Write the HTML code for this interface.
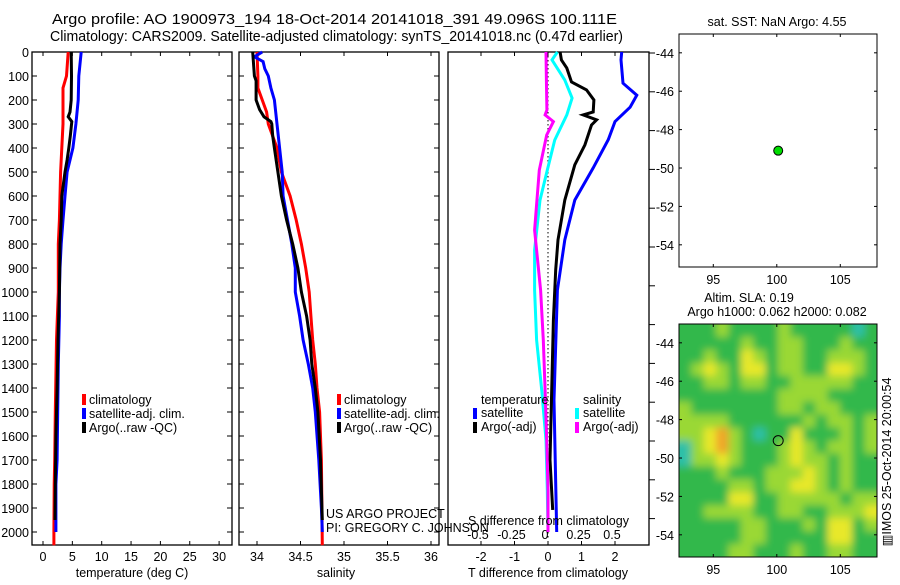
<!DOCTYPE html>
<html><head><meta charset="utf-8"><style>
body{margin:0;background:#fff}
svg text{font-family:"Liberation Sans",sans-serif;fill:#000}
</style></head><body>
<svg id="s" width="900" height="580" viewBox="0 0 900 580" xmlns="http://www.w3.org/2000/svg">
<defs><filter id="bl" x="-5%" y="-5%" width="110%" height="110%"><feGaussianBlur stdDeviation="4"/></filter></defs>
<text x="52" y="24" font-size="15" textLength="565" lengthAdjust="spacingAndGlyphs">Argo profile: AO 1900973_194 18-Oct-2014 20141018_391 49.096S 100.111E</text>
<text x="50" y="41" font-size="15" textLength="573" lengthAdjust="spacingAndGlyphs">Climatology: CARS2009. Satellite-adjusted climatology: synTS_20141018.nc (0.47d earlier)</text>
<g id="g"></g>
</svg>
<script>
const depT=[0,100,150,200,300,400,500,600,700,800,1000,1200,1500,1700,1800,2000,2055];
const tempClim=[4.3,4.0,3.4,3.4,3.4,3.2,3.0,2.9,2.8,2.6,2.6,2.3,2.1,2.0,1.9,1.85,1.85];
const depTS=[0,100,200,300,400,500,600,700,800,900,1000,1100,1300,1500,1700,1800,2000];
const tempSat=[6.5,6.1,6.0,5.6,5.1,4.1,3.75,3.4,3.1,2.9,2.8,2.8,2.6,2.5,2.4,2.2,2.2];
const depTA=[0,100,200,250,270,290,350,400,450,500,600,700,800,1000,1200,1400,1600,1800,1950];
const tempArgo=[4.8,4.85,4.8,4.6,4.3,4.9,4.65,4.4,4.1,3.75,3.2,3.1,2.9,2.8,2.55,2.4,2.2,2.1,2.05];
const depSC=[0,100,150,250,300,400,500,600,700,800,900,1000,1100,1200,1300,1400,1500,1700,2055];
const salClim=[34.0,34.01,34.01,34.11,34.13,34.23,34.28,34.38,34.45,34.51,34.56,34.6,34.62,34.64,34.67,34.69,34.72,34.74,34.75];
const depSS=[0,20,40,70,100,150,200,300,400,500,600,700,800,900,1000,1100,1200,1300,1400,1500,1700,1900,2000];
const salSat=[34.06,33.97,34.07,34.09,34.13,34.16,34.2,34.23,34.26,34.29,34.3,34.35,34.4,34.44,34.44,34.49,34.53,34.59,34.64,34.67,34.71,34.74,34.75];
const depSA=[0,100,120,200,240,270,290,300,350,400,500,600,700,800,900,1000,1100,1200,1300,1400,1500,1700,1950];
const salArgo=[33.95,33.97,33.99,33.99,34.03,34.08,34.16,34.17,34.18,34.2,34.24,34.28,34.34,34.41,34.47,34.51,34.57,34.61,34.63,34.67,34.7,34.73,34.75];
const depDT=[0,33,130,180,230,290,365,483,617,783,992,1450,2000];
const dTsat=[2.2,2.18,2.24,2.65,2.45,2.0,1.8,1.35,0.8,0.5,0.28,0.18,0.26];
const depDA=[0,33,67,125,158,200,250,262,283,304,387,470,617,783,908,1117,1700,1908];
const dTargo=[0.36,0.4,0.56,0.7,1.15,1.37,1.35,1.05,1.45,1.3,1.1,0.8,0.5,0.3,0.23,0.16,0.06,0.14];
const depDS=[0,33,117,192,262,367,492,617,825,992,1200,1408,1617,1825,2000];
const dSsat=[0.07,0.03,0.125,0.18,0.14,0.05,-0.005,-0.06,-0.1,-0.1,-0.085,-0.047,-0.015,-0.005,0];
const depDSA=[0,117,242,262,290,346,492,742,992,1200,1408,1617,1825,2000];
const dSargo=[-0.015,-0.012,-0.008,-0.022,0.04,-0.01,-0.065,-0.1,-0.055,-0.035,-0.022,-0.01,0,0];
const lonTicks=[95,100,105];
const latTicks=[-44,-46,-48,-50,-52,-54];
const floatLon=100.111, floatLat=-49.096;
const slaGrid=[
"1112111121111101","1111121122111211","1121132122112221","1232133122113321",
"1122122112222211","1111111122221111","2111111122122111","2222111111212212",
"2234210113111212","0234211123212212","0223211123221211","1112111222321211",
"1111221223321211","1111331122222122","1122221122112223","1111122111213312",
"1111122111113311","1111221112112211"];
const slaColors=["#2fc0a8","#33b84c","#9ad834","#e8e82a","#f0a42a"];

const NS="http://www.w3.org/2000/svg",G=document.getElementById('g');
function el(t,a,p){const e=document.createElementNS(NS,t);for(const k in a)e.setAttribute(k,a[k]);(p||G).appendChild(e);return e;}
const Y=d=>52+d*0.24;
function yLat(top,lat){return top+(lat+43.02)*-19.2;}
const fs=12.5;

function panel(x0,x1,name){
 const r=el('rect',{x:x0,y:52,width:x1-x0,height:493,fill:'none',stroke:'#000','stroke-width':1.3});
 
}
function line(dep,vals,fx,col,name){
 const p=el('path',{d:dep.map((d,i)=>(i?'L':'M')+fx(vals[i]).toFixed(1)+','+Y(d).toFixed(1)).join(''),fill:'none',stroke:col,'stroke-width':3});
 
}
function txt(x,y,s,opt,name){const t=el('text',Object.assign({x:x,y:y,'font-size':fs},opt||{}));t.textContent=s;
 return t;}

// panel 1 temperature
const xT=v=>43+v*5.87;
panel(32,232,'temperature-panel');
for(let d=0;d<=2000;d+=100){el('line',{x1:32,x2:37,y1:Y(d),y2:Y(d),stroke:'#000'});el('line',{x1:227,x2:232,y1:Y(d),y2:Y(d),stroke:'#000'});
 el('line',{x1:239,x2:244,y1:Y(d),y2:Y(d),stroke:'#000'});el('line',{x1:434,x2:439,y1:Y(d),y2:Y(d),stroke:'#000'});
 txt(29,Y(d)+5,String(d),{'text-anchor':'end'},'depth-tick-label');}
for(let v=0;v<=30;v+=5){el('line',{x1:xT(v),x2:xT(v),y1:52,y2:56,stroke:'#000'});el('line',{x1:xT(v),x2:xT(v),y1:541,y2:545,stroke:'#000'});
 txt(xT(v),561,String(v),{'text-anchor':'middle'},'temperature-tick-label');}
txt(132,577,'temperature (deg C)',{'text-anchor':'middle'},'temperature-axis-title');
line(depT,tempClim,xT,'#f00','temp-climatology-line');
line(depTS,tempSat,xT,'#00f','temp-satellite-line');
line(depTA,tempArgo,xT,'#000','temp-argo-line');
function legend(x,names,cols,nm){names.forEach((n,i)=>{el('rect',{x:x,y:394+i*14,width:4,height:11,fill:cols[i]});txt(x+7,404+i*14,n,{},nm);});}
legend(82,['climatology','satellite-adj. clim.','Argo(..raw -QC)'],['#f00','#00f','#000'],'temperature-legend-entry');

// panel 2 salinity
const xS=v=>257+(v-34)*87;
panel(239,439,'salinity-panel');
[34,34.5,35,35.5,36].forEach(v=>{el('line',{x1:xS(v),x2:xS(v),y1:52,y2:56,stroke:'#000'});el('line',{x1:xS(v),x2:xS(v),y1:541,y2:545,stroke:'#000'});
 txt(xS(v),561,String(v),{'text-anchor':'middle'},'salinity-tick-label');});
txt(336,577,'salinity',{'text-anchor':'middle'},'salinity-axis-title');
line(depSC,salClim,xS,'#f00','sal-climatology-line');
line(depSS,salSat,xS,'#00f','sal-satellite-line');
line(depSA,salArgo,xS,'#000','sal-argo-line');
legend(337,['climatology','satellite-adj. clim.','Argo(..raw -QC)'],['#f00','#00f','#000'],'salinity-legend-entry');
txt(326,518,'US ARGO PROJECT',{},'project-credit');
txt(326,532,'PI: GREGORY C. JOHNSON',{},'pi-credit');

// panel 3 differences
const xD=v=>548+v*33.5;
panel(448,649,'difference-panel');
for(let k=0;k<13;k++){const y=53+k*38.8;if(y<545)el('line',{x1:649,x2:655,y1:y,y2:y,stroke:'#000'});}
[-2,-1,0,1,2].forEach(v=>{el('line',{x1:xD(v),x2:xD(v),y1:52,y2:56,stroke:'#000'});el('line',{x1:xD(v),x2:xD(v),y1:541,y2:545,stroke:'#000'});
 txt(xD(v),561,String(v),{'text-anchor':'middle'},'t-diff-tick-label');});
[-0.5,-0.25,0,0.25,0.5].forEach(v=>txt(xD(v*4)-3,539,String(v),{'text-anchor':'middle'},'s-diff-tick-label'));
el('line',{x1:548,x2:548,y1:52,y2:540,stroke:'#000','stroke-dasharray':'1.5,2.5'});
line(depDT,dTsat,xD,'#00f','t-diff-satellite-line');
line(depDA,dTargo,xD,'#000','t-diff-argo-line');
line(depDS,dSsat,v=>xD(v*4),'#0ff','s-diff-satellite-line');
line(depDSA,dSargo,v=>xD(v*4),'#f0f','s-diff-argo-line');
txt(481,404,'temperature',{},'legend-temperature-heading');
txt(583,404,'salinity',{},'legend-salinity-heading');
el('rect',{x:473,y:408,width:4,height:11,fill:'#00f'});txt(481,417,'satellite',{},'legend-t-satellite');
el('rect',{x:473,y:422,width:4,height:11,fill:'#000'});txt(481,431,'Argo(-adj)',{},'legend-t-argo');
el('rect',{x:575,y:408,width:4,height:11,fill:'#0ff'});txt(583,417,'satellite',{},'legend-s-satellite');
el('rect',{x:575,y:422,width:4,height:11,fill:'#f0f'});txt(583,431,'Argo(-adj)',{},'legend-s-argo');
txt(468,525,'S difference from climatology',{},'s-diff-axis-title');
txt(548,577,'T difference from climatology',{'text-anchor':'middle'},'t-diff-axis-title');

// maps
const xL=v=>679+(v-92.3)*12.7;
function mapAxes(top,bot,name){
 const r=el('rect',{x:679,y:top,width:198,height:bot-top,fill:'none',stroke:'#000','stroke-width':1});
 
 lonTicks.forEach(v=>{el('line',{x1:xL(v),x2:xL(v),y1:top,y2:top+3,stroke:'#000'});el('line',{x1:xL(v),x2:xL(v),y1:bot-3,y2:bot,stroke:'#000'});
  txt(xL(v),bot+17,String(v),{'text-anchor':'middle'},'longitude-tick-label');});
 latTicks.forEach(v=>{const y=yLat(top,v);el('line',{x1:679,x2:682,y1:y,y2:y,stroke:'#000'});el('line',{x1:874,x2:877,y1:y,y2:y,stroke:'#000'});
  txt(674,y+5,String(v),{'text-anchor':'end'},'latitude-tick-label');});
}
// heatmap
const hx=679,hy=324,hw=198,hh=233,rows=slaGrid.length,cols=16;
const clip=el('clipPath',{id:'mc'});el('rect',{x:hx,y:hy,width:hw,height:hh},clip);
const hc=el('g',{'clip-path':'url(#mc)'});

const hg=el('g',{filter:'url(#bl)'},hc);
el('rect',{x:hx-12,y:hy-12,width:hw+24,height:hh+24,fill:slaColors[1]},hg);
const cw=hw/cols,ch=hh/rows;
slaGrid.forEach((row,r)=>{for(let c=0;c<cols;c++){
 let x=hx+c*cw,y=hy+r*ch,w=cw+0.5,h=ch+0.5;
 if(c==0){x-=12;w+=12;} if(c==cols-1){w+=12;} if(r==0){y-=12;h+=12;} if(r==rows-1){h+=12;}
 const cell=el('rect',{x:x,y:y,width:w,height:h,fill:slaColors[+row[c]]},hg);
 }});
mapAxes(34,267,'sst-map');
mapAxes(324,557,'sla-map');
txt(777,26,'sat. SST: NaN Argo: 4.55',{'text-anchor':'middle'},'sst-map-title');
txt(749,302,'Altim. SLA: 0.19',{'text-anchor':'middle'},'sla-map-title');
txt(777,316,'Argo h1000: 0.062 h2000: 0.082',{'text-anchor':'middle'},'steric-height-title');
const p1=el('circle',{cx:xL(floatLon),cy:yLat(34,floatLat),r:4.5,fill:'#0d0',stroke:'#000'});

const p2=el('circle',{cx:xL(floatLon),cy:yLat(324,floatLat),r:5,fill:'none',stroke:'#000'});

txt(0,0,'\u25A5IMOS 25-Oct-2014 20:00:54',{'text-anchor':'middle',transform:'translate(891,462) rotate(-90)'},'imos-timestamp');
</script>
</body></html>
